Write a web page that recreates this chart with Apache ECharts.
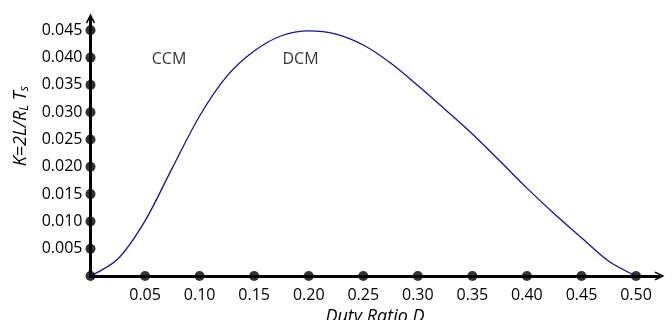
<!DOCTYPE html>
<html>
<head>
<meta charset="utf-8">
<script src="https://cdn.jsdelivr.net/npm/echarts@6/dist/echarts.min.js"></script>
<style>
  html, body { margin: 0; padding: 0; background: #fff; }
  #chart { width: 672px; height: 320px; }
</style>
</head>
<body>
<div id="chart"></div>
<script>
// Boundary between continuous and discontinuous conduction: K versus duty ratio D
const dutyRatio = [0, 0.025, 0.05, 0.075, 0.1, 0.125, 0.15, 0.175, 0.2,
                   0.225, 0.25, 0.275, 0.3, 0.325, 0.35, 0.375, 0.4, 0.425, 0.45,
                   0.475, 0.5];
const kCrit = [0, 0.0031, 0.0101, 0.0198, 0.0293, 0.0366, 0.0412, 0.0440, 0.0449,
               0.0443, 0.0423, 0.0390, 0.0349, 0.0305, 0.0260, 0.0211, 0.0161, 0.0114, 0.0070,
               0.0027, 0];

// Tick positions (drawn as dots on the axes)
const xTicks = [0, 0.05, 0.10, 0.15, 0.20, 0.25, 0.30, 0.35, 0.40, 0.45, 0.50];
const yTicks = [0.005, 0.010, 0.015, 0.020, 0.025, 0.030, 0.035, 0.040, 0.045];

// Region annotations
const regionNames = ['CCM', 'DCM'];
const regionD = [0.072, 0.1925];
const regionK = [0.0397, 0.0397];

const FONT = 'Open Sans';
const INK = '#000';
const chart = echarts.init(document.getElementById('chart'), null, { renderer: 'canvas' });

function isTick(v, list) {
  return list.some(t => Math.abs(t - v) < 1e-9);
}

const arrowPath = 'path://M0,10 L5,0 L10,10 L8.6,11 L5,3.2 L1.4,11 Z';

chart.setOption({
  animation: false,
  backgroundColor: '#ffffff',
  grid: {
    left: 90.5, right: 12.5, top: 18.5, bottom: 44,
    containLabel: false,
    outerBoundsMode: 'none'
  },
  xAxis: {
    type: 'value',
    min: 0,
    max: 0.5215,
    interval: 0.05,
    splitLine: { show: false },
    axisTick: { show: false },
    axisLine: {
      show: true,
      lineStyle: { color: '#000', width: 3 },
      symbol: ['none', arrowPath],
      symbolSize: [12, 10]
    },
    axisLabel: {
      margin: 11,
      color: INK,
      fontFamily: FONT,
      fontSize: 16,
      showMaxLabel: false,
      formatter: v => (v > 0 && isTick(v, xTicks)) ? v.toFixed(2) : ''
    },
    name: 'Duty Ratio D',
    nameLocation: 'middle',
    nameGap: 24,
    nameTextStyle: { fontFamily: FONT, fontStyle: 'italic', fontSize: 18, color: INK }
  },
  yAxis: {
    type: 'value',
    min: 0,
    max: 0.04716,
    interval: 0.005,
    splitLine: { show: false },
    axisTick: { show: false },
    axisLine: {
      show: true,
      lineStyle: { color: '#000', width: 3 },
      symbol: ['none', arrowPath],
      symbolSize: [12, 10]
    },
    axisLabel: {
      margin: 8,
      color: INK,
      fontFamily: FONT,
      fontSize: 16,
      showMaxLabel: false,
      formatter: v => (v > 0 && isTick(v, yTicks)) ? v.toFixed(3) : ''
    },
    name: '{i|K=2L/R}{s|L}{i| T}{s|s}',
    nameLocation: 'middle',
    nameGap: 50,
    nameRotate: 90,
    nameTextStyle: {
      padding: [0, 0, 0, 42],
      rich: {
        i: { fontFamily: FONT, fontStyle: 'italic', fontSize: 18, color: INK },
        s: { fontFamily: FONT, fontStyle: 'italic', fontSize: 12, color: INK, verticalAlign: 'bottom', padding: [7, 0, 0, 0] }
      }
    }
  },
  series: [
    {
      type: 'line',
      data: dutyRatio.map((d, i) => [d, kCrit[i]]),
      smooth: 0.3,
      showSymbol: false,
      lineStyle: { color: '#12129a', width: 1.3 },
      z: 3
    },
    {
      type: 'scatter',
      data: xTicks.map(d => [d, 0]).concat(yTicks.map(k => [0, k])),
      symbol: 'circle',
      symbolSize: 10,
      itemStyle: { color: '#000' },
      clip: false,
      z: 4
    },
    {
      type: 'scatter',
      data: regionNames.map((n, i) => ({ name: n, value: [regionD[i], regionK[i]] })),
      symbolSize: 0,
      label: {
        show: true,
        position: 'inside',
        formatter: p => p.name,
        fontFamily: FONT,
        fontSize: 16,
        color: INK
      },
      z: 5
    }
  ]
});
</script>
</body>
</html>
